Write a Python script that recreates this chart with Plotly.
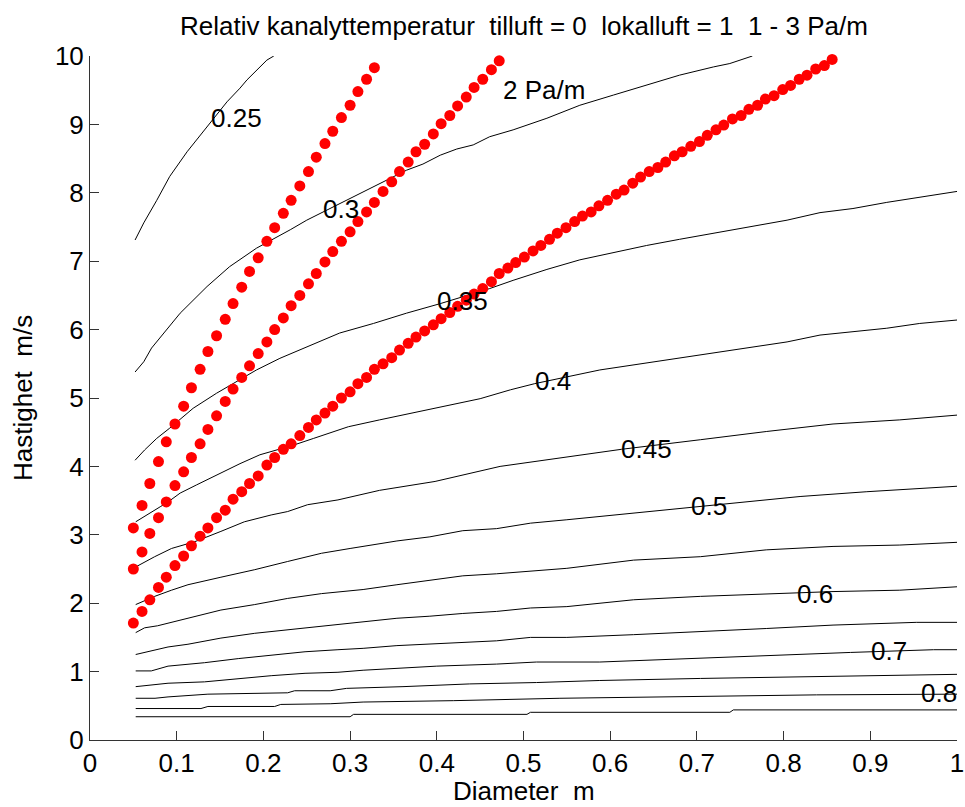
import plotly.graph_objects as go

# ---------------- data ----------------
# diameters of the sample points (m)
diam = [0.050, 0.060, 0.069, 0.079, 0.088, 0.098, 0.108, 0.117, 0.127, 0.136,
        0.146, 0.156, 0.165, 0.175, 0.184, 0.194, 0.204, 0.213, 0.223, 0.232,
        0.242, 0.252, 0.261, 0.271, 0.280, 0.290, 0.300, 0.309, 0.319, 0.328,
        0.338, 0.348, 0.357, 0.367, 0.376, 0.386, 0.396, 0.405, 0.415, 0.424,
        0.434, 0.443, 0.453, 0.463, 0.472, 0.482, 0.491, 0.501, 0.511, 0.520,
        0.530, 0.539, 0.549, 0.559, 0.568, 0.578, 0.587, 0.597, 0.607, 0.616,
        0.626, 0.635, 0.645, 0.655, 0.664, 0.674, 0.683, 0.693, 0.703, 0.712,
        0.722, 0.731, 0.741, 0.751, 0.760, 0.770, 0.779, 0.789, 0.799, 0.808,
        0.818, 0.827, 0.837, 0.847, 0.856]

# velocity giving 1, 2, 3 Pa/m (red dots)
v_1pa = [1.71, 1.88, 2.05, 2.23, 2.38, 2.55, 2.69, 2.84, 2.98, 3.10,
         3.25, 3.36, 3.52, 3.63, 3.75, 3.86, 4.02, 4.13, 4.25, 4.33,
         4.45, 4.57, 4.68, 4.78, 4.88, 5.00, 5.09, 5.21, 5.30, 5.42,
         5.50, 5.59, 5.70, 5.80, 5.89, 5.98, 6.07, 6.16, 6.25, 6.34,
         6.43, 6.52, 6.60, 6.70, 6.82, 6.90, 6.98, 7.06, 7.15, 7.23,
         7.32, 7.41, 7.49, 7.58, 7.66, 7.72, 7.81, 7.89, 7.98, 8.04,
         8.14, 8.23, 8.31, 8.37, 8.45, 8.54, 8.60, 8.68, 8.75, 8.84,
         8.92, 8.99, 9.08, 9.13, 9.22, 9.28, 9.37, 9.42, 9.51, 9.57,
         9.66, 9.72, 9.81, 9.86, 9.95]
v_2pa = [2.50, 2.75, 3.02, 3.25, 3.48, 3.72, 3.92, 4.13, 4.33, 4.54,
         4.74, 4.95, 5.13, 5.30, 5.47, 5.65, 5.82, 6.00, 6.17, 6.35,
         6.50, 6.67, 6.82, 6.99, 7.14, 7.29, 7.43, 7.58, 7.72, 7.86,
         8.02, 8.16, 8.31, 8.45, 8.60, 8.71, 8.86, 9.01, 9.13, 9.27,
         9.40, 9.54, 9.66, 9.80, 9.93]
v_3pa = [3.10, 3.43, 3.75, 4.07, 4.36, 4.62, 4.88, 5.15, 5.42, 5.68,
         5.91, 6.15, 6.38, 6.62, 6.85, 7.05, 7.29, 7.49, 7.70, 7.89,
         8.10, 8.31, 8.52, 8.72, 8.90, 9.10, 9.28, 9.48, 9.66, 9.83]

# contour lines of relative duct temperature
c025_x = [0.052, 0.062, 0.077, 0.092, 0.112, 0.137, 0.158, 0.173, 0.181, 0.204, 0.212]
c025_y = [7.31, 7.56, 7.89, 8.24, 8.60, 8.99, 9.33, 9.53, 9.65, 9.94, 10.0]

c030_x = [0.052, 0.062, 0.071, 0.088, 0.104, 0.135, 0.161, 0.192, 0.211, 0.231, 0.250,
          0.269, 0.288, 0.308, 0.327, 0.346, 0.365, 0.384, 0.404, 0.423, 0.442, 0.461,
          0.488, 0.527, 0.565, 0.604, 0.642, 0.680, 0.719, 0.738, 0.764]
c030_y = [5.38, 5.53, 5.73, 5.99, 6.24, 6.63, 6.92, 7.19, 7.32, 7.46, 7.60,
          7.72, 7.85, 7.97, 8.09, 8.21, 8.33, 8.42, 8.55, 8.64, 8.70, 8.82,
          8.92, 9.09, 9.28, 9.43, 9.58, 9.72, 9.84, 9.89, 10.0]

c035_x = [0.052, 0.063, 0.077, 0.092, 0.119, 0.146, 0.165, 0.192, 0.219, 0.250, 0.288,
          0.327, 0.365, 0.404, 0.442, 0.461, 0.488, 0.527, 0.565, 0.604, 0.642, 0.680,
          0.719, 0.765, 0.804, 0.842, 0.880, 0.919, 0.957, 1.0]
c035_y = [4.09, 4.24, 4.41, 4.56, 4.85, 5.07, 5.21, 5.41, 5.58, 5.75, 5.95,
          6.09, 6.24, 6.38, 6.53, 6.60, 6.72, 6.88, 7.02, 7.13, 7.23, 7.32,
          7.41, 7.51, 7.60, 7.71, 7.77, 7.86, 7.94, 8.02]

c040_x = [0.0527, 0.065, 0.081, 0.090, 0.104, 0.123, 0.150, 0.173, 0.196, 0.2345, 0.258,
          0.298, 0.334, 0.398, 0.450, 0.485, 0.513, 0.588, 0.665, 0.742, 0.804, 0.842,
          0.880, 0.919, 0.957, 1.0]
c040_y = [3.19, 3.29, 3.41, 3.48, 3.61, 3.73, 3.90, 4.04, 4.17, 4.31, 4.41,
          4.58, 4.68, 4.85, 4.99, 5.12, 5.21, 5.41, 5.56, 5.71, 5.82, 5.92,
          5.97, 6.02, 6.09, 6.14]

c045_x = [0.0527, 0.0746, 0.094, 0.121, 0.151, 0.178, 0.209, 0.228, 0.251, 0.286, 0.334,
          0.398, 0.473, 0.550, 0.613, 0.704, 0.780, 0.857, 0.934, 1.0]
c045_y = [2.53, 2.68, 2.80, 2.90, 3.05, 3.19, 3.29, 3.34, 3.44, 3.51, 3.65,
          3.78, 4.00, 4.14, 4.25, 4.39, 4.51, 4.62, 4.68, 4.75]

c050_x = [0.0527, 0.0746, 0.094, 0.113, 0.151, 0.190, 0.228, 0.267, 0.300, 0.354, 0.392,
          0.430, 0.469, 0.508, 0.550, 0.627, 0.742, 0.819, 0.896, 1.0]
c050_y = [1.98, 2.10, 2.19, 2.27, 2.38, 2.49, 2.61, 2.73, 2.80, 2.91, 2.97,
          3.06, 3.09, 3.17, 3.22, 3.32, 3.46, 3.56, 3.63, 3.71]

c055_x = [0.0527, 0.063, 0.078, 0.113, 0.151, 0.190, 0.228, 0.267, 0.315, 0.354, 0.392,
          0.430, 0.469, 0.508, 0.550, 0.627, 0.704, 0.780, 0.857, 0.934, 1.0]
c055_y = [1.57, 1.64, 1.67, 1.78, 1.90, 1.98, 2.07, 2.14, 2.20, 2.27, 2.34,
          2.40, 2.43, 2.47, 2.51, 2.63, 2.68, 2.78, 2.83, 2.85, 2.89]

c060_x = [0.0527, 0.090, 0.113, 0.151, 0.190, 0.228, 0.267, 0.315, 0.354, 0.392, 0.430,
          0.469, 0.508, 0.550, 0.627, 0.704, 0.780, 0.857, 0.934, 1.0]
c060_y = [1.25, 1.36, 1.40, 1.49, 1.56, 1.61, 1.66, 1.73, 1.78, 1.81, 1.85,
          1.88, 1.93, 1.95, 2.05, 2.10, 2.14, 2.17, 2.19, 2.24]

c065_x = [0.0527, 0.0707, 0.090, 0.132, 0.171, 0.209, 0.248, 0.286, 0.315, 0.354, 0.392,
          0.430, 0.469, 0.508, 0.550, 0.627, 0.704, 0.780, 0.857, 0.953, 1.0]
c065_y = [1.01, 1.01, 1.08, 1.13, 1.19, 1.24, 1.29, 1.32, 1.34, 1.38, 1.40,
          1.43, 1.45, 1.50, 1.50, 1.54, 1.58, 1.63, 1.68, 1.72, 1.72]

c070_x = [0.0527, 0.090, 0.132, 0.171, 0.209, 0.248, 0.286, 0.315, 0.354, 0.400, 0.469,
          0.515, 0.588, 0.646, 0.704, 0.800, 0.877, 0.973, 1.0]
c070_y = [0.78, 0.83, 0.85, 0.90, 0.94, 0.975, 0.99, 1.02, 1.05, 1.08, 1.11,
          1.14, 1.14, 1.17, 1.19, 1.24, 1.28, 1.32, 1.32]

c075_x = [0.0527, 0.075, 0.090, 0.136, 0.228, 0.236, 0.277, 0.296, 0.361, 0.438, 0.515,
          0.588, 0.704, 0.819, 0.934, 1.0]
c075_y = [0.61, 0.61, 0.63, 0.67, 0.69, 0.72, 0.72, 0.755, 0.78, 0.82, 0.84,
          0.87, 0.90, 0.925, 0.95, 0.96]

c080_x = [0.0527, 0.128, 0.136, 0.213, 0.220, 0.277, 0.315, 0.419, 0.542, 0.684, 0.838, 1.0]
c080_y = [0.46, 0.46, 0.49, 0.49, 0.52, 0.53, 0.555, 0.575, 0.61, 0.63, 0.66, 0.67]

c085_x = [0.0527, 0.300, 0.304, 0.504, 0.508, 0.738, 0.742, 1.0]
c085_y = [0.34, 0.34, 0.375, 0.375, 0.405, 0.405, 0.44, 0.44]

contours = [(c025_x, c025_y), (c030_x, c030_y), (c035_x, c035_y), (c040_x, c040_y),
            (c045_x, c045_y), (c050_x, c050_y), (c055_x, c055_y), (c060_x, c060_y),
            (c065_x, c065_y), (c070_x, c070_y), (c075_x, c075_y), (c080_x, c080_y),
            (c085_x, c085_y)]

# contour labels and their positions
label_text = ["0.25", "0.3", "0.35", "0.4", "0.45", "0.5", "0.6", "0.7", "0.8", "2 Pa/m"]
label_x = [0.1692, 0.2893, 0.430, 0.5338, 0.6415, 0.7142, 0.8364, 0.9218, 0.9795, 0.524]
label_y = [9.09, 7.76, 6.42, 5.246, 4.25, 3.416, 2.137, 1.304, 0.69, 9.507]

x_ticks = [0, 0.1, 0.2, 0.3, 0.4, 0.5, 0.6, 0.7, 0.8, 0.9, 1]
x_ticklabels = ["0", "0.1", "0.2", "0.3", "0.4", "0.5", "0.6", "0.7", "0.8", "0.9", "1"]
y_ticks = [0, 1, 2, 3, 4, 5, 6, 7, 8, 9, 10]

title_text = "Relativ kanalyttemperatur\u00a0 tilluft = 0\u00a0 lokalluft = 1\u00a0 1 - 3 Pa/m"
xlabel = "Diameter\u00a0 m"
ylabel = "Hastighet\u00a0 m/s"

# ---------------- figure ----------------
FONT = "Liberation Sans, Arial, Helvetica, sans-serif"
FS = 26

fig = go.Figure()
for cx, cy in contours:
    fig.add_trace(go.Scatter(x=cx, y=cy, mode="lines",
                             line=dict(color="black", width=1),
                             hoverinfo="skip", showlegend=False))

for v in (v_1pa, v_2pa, v_3pa):
    fig.add_trace(go.Scatter(x=diam[:len(v)], y=v, mode="markers",
                             marker=dict(color="#ff0000", size=11, line=dict(width=0)),
                             showlegend=False, cliponaxis=False))

annotations = []
for t, lx, ly in zip(label_text, label_x, label_y):
    annotations.append(dict(x=lx, y=ly, xref="x", yref="y", text=t, showarrow=False,
                            xanchor="center", yanchor="middle",
                            font=dict(family=FONT, size=FS, color="black")))

annotations.append(dict(x=0.5, y=(740 - 26) / 684, xref="paper", yref="paper",
                        text=title_text, showarrow=False, xanchor="center",
                        yanchor="middle", font=dict(family=FONT, size=FS, color="black")))
annotations.append(dict(x=0.5, y=(740 - 791) / 684, xref="paper", yref="paper",
                        text=xlabel, showarrow=False, xanchor="center", height=22,
                        yanchor="middle", font=dict(family=FONT, size=FS, color="black")))
annotations.append(dict(x=(23 - 90) / 867, y=0.5, xref="paper", yref="paper",
                        text=ylabel, showarrow=False, textangle=-90, xanchor="center",
                        yanchor="middle", font=dict(family=FONT, size=FS, color="black")))

axis_common = dict(showgrid=False, zeroline=False, showline=True, linecolor="#333333",
                   linewidth=1, ticks="inside", ticklen=9, tickcolor="#333333",
                   tickwidth=1, mirror=False, automargin=False,
                   tickfont=dict(family=FONT, size=FS, color="black"))

fig.update_layout(
    width=965, height=807,
    margin=dict(l=90, r=8, t=56, b=67, autoexpand=False),
    paper_bgcolor="white", plot_bgcolor="white",
    xaxis=dict(range=[0, 1], tickvals=x_ticks, ticktext=x_ticklabels, **axis_common),
    yaxis=dict(range=[0, 10], tickvals=y_ticks, **axis_common),
    annotations=annotations,
    showlegend=False,
)

fig.write_html("out.html")
